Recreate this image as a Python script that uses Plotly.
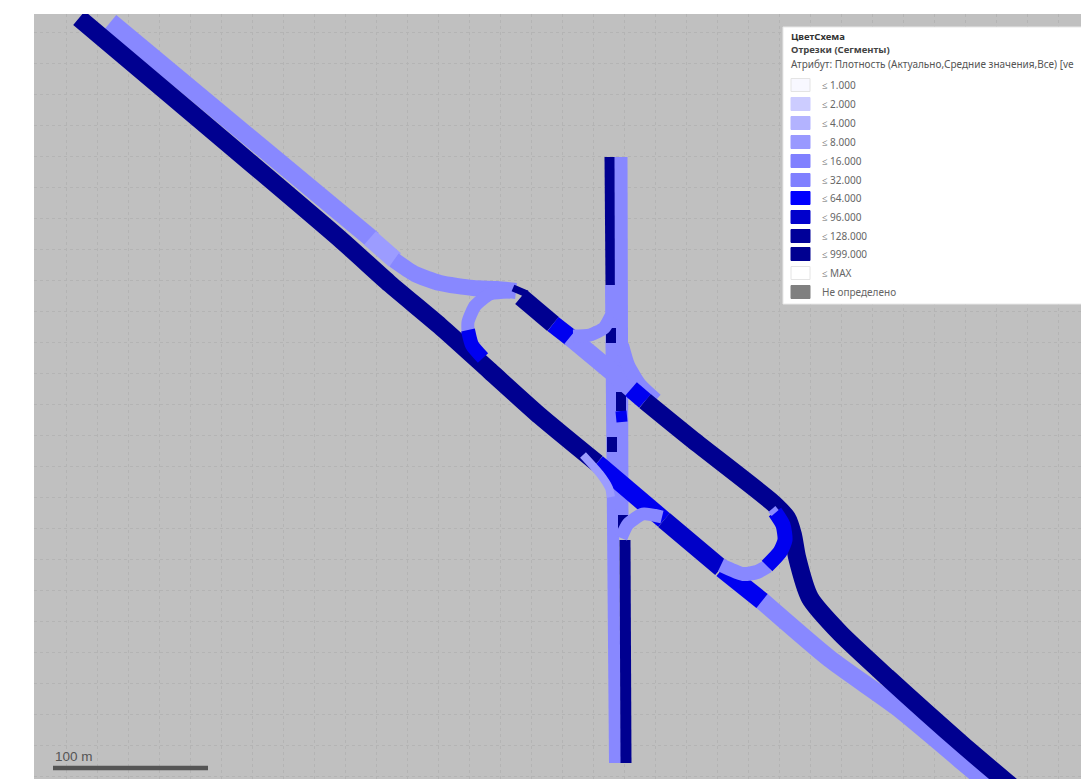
import plotly.graph_objects as go

# Density classes (legend)
legend_labels = ["≤ 1.000", "≤ 2.000", "≤ 4.000", "≤ 8.000", "≤ 16.000", "≤ 32.000",
                 "≤ 64.000", "≤ 96.000", "≤ 128.000", "≤ 999.000", "≤ MAX", "Не определено"]
legend_colors = ["#F8F8FF", "#CCCCFF", "#B3B3FF", "#9999FF", "#8080FF", "#8080FF",
                 "#0000FF", "#0000CC", "#000099", "#000090", "#FFFFFF", "#808080"]
legend_y = [85, 104, 123, 142, 161, 180, 198, 217, 236, 254, 273, 292]

C8, C32, C64, C96, C128 = "#9C9CFF", "#8888FF", "#0000F0", "#0000C8", "#000090"

# Road segments
seg_main_upper_x = [110.5, 373]
seg_main_upper_y = [22, 240]
seg_lighter_x = [370, 395]
seg_lighter_y = [238, 260]
seg_ramp_x = [394, 415, 440, 473, 497, 516]
seg_ramp_y = [260, 274, 283, 288, 289, 291]
seg_cap_x = [513, 527]
seg_cap_y = [288, 294]
seg_ne_dark_x = [521, 553]
seg_ne_dark_y = [297, 324]
seg_ne_blue_x = [553, 571]
seg_ne_blue_y = [324, 338]
seg_diag_x = [570, 612, 635]
seg_diag_y = [337, 372, 392]
seg_arcne_x = [573, 590, 604, 611]
seg_arcne_y = [336, 335, 328, 316]
seg_curve_x = [622, 628, 640, 656]
seg_curve_y = [345, 365, 385, 400]
seg_upper_blue_x = [631, 645]
seg_upper_blue_y = [389, 401]
seg_upper_dark_x = [645, 693, 773, 787, 793, 797, 810, 840, 887, 963, 1016]
seg_upper_dark_y = [401, 440, 503, 518, 535, 557, 598, 633, 677, 745, 790]

seg_loop_l_x = [510, 490, 475, 468, 468]
seg_loop_l_y = [292, 294, 306, 322, 331]
seg_loop_lb_x = [468, 472, 483]
seg_loop_lb_y = [330, 345, 358]

seg_lower_dark_x = [79, 340, 390, 440, 490, 540, 597]
seg_lower_dark_y = [18, 239, 284, 326, 371, 416, 463]
seg_lower_blue_x = [597, 664]
seg_lower_blue_y = [463, 520]
seg_lower_dark2_x = [664, 721]
seg_lower_dark2_y = [520, 568]
seg_lower_blue2_x = [722, 762]
seg_lower_blue2_y = [569, 601]
seg_lower_light_x = [761, 830, 897, 963, 988]
seg_lower_light_y = [600, 659, 707, 762, 783]

seg_branch_x = [583, 600, 609, 611]
seg_branch_y = [455, 474, 488, 497]

seg_loop_r_x = [721, 743, 757, 768]
seg_loop_r_y = [565, 574, 572, 566]
seg_loop_rb_x = [767, 780, 785, 783, 775]
seg_loop_rb_y = [566, 552, 540, 525, 512]
seg_tick_x = [770, 777]
seg_tick_y = [514, 508]

seg_sw_arc_x = [662, 643, 628, 621]
seg_sw_arc_y = [517, 514, 524, 538]

seg_v_left_top_x = [610, 611]
seg_v_left_top_y = [157, 285]
seg_v_left_x = [611, 615]
seg_v_left_y = [285, 763]
seg_v_right_x = [621, 622]
seg_v_right_y = [157, 520]
seg_v_d1_x = [611, 611]
seg_v_d1_y = [328, 343]
seg_v_d2_x = [621, 621]
seg_v_d2_y = [392, 411]
seg_v_b2_x = [621, 622]
seg_v_b2_y = [411, 422]
seg_v_d3_x = [612, 612]
seg_v_d3_y = [437, 452]
seg_v_d4_x = [623, 623]
seg_v_d4_y = [515, 530]
seg_v_d5_x = [625, 626]
seg_v_d5_y = [540, 763]

W = 18
segments = [
    (C128, 11, seg_v_left_top_x, seg_v_left_top_y),
    (C32, 12, seg_v_left_x, seg_v_left_y),
    (C32, 13, seg_v_right_x, seg_v_right_y),
    (C128, 10, seg_v_d1_x, seg_v_d1_y),
    (C128, 10, seg_v_d2_x, seg_v_d2_y),
    (C64, 11, seg_v_b2_x, seg_v_b2_y),
    (C128, 10, seg_v_d3_x, seg_v_d3_y),
    (C128, 10, seg_v_d4_x, seg_v_d4_y),
    (C128, 11, seg_v_d5_x, seg_v_d5_y),
    (C32, W, seg_main_upper_x, seg_main_upper_y),
    (C8, W, seg_lighter_x, seg_lighter_y),
    (C128, W, seg_lower_dark_x, seg_lower_dark_y),
    (C32, 16, seg_ramp_x, seg_ramp_y),
    (C32, 13, seg_loop_l_x, seg_loop_l_y),
    (C64, 14, seg_loop_lb_x, seg_loop_lb_y),
    (C128, 7, seg_cap_x, seg_cap_y),
    (C128, W, seg_ne_dark_x, seg_ne_dark_y),
    (C64, W, seg_ne_blue_x, seg_ne_blue_y),
    (C32, W, seg_diag_x, seg_diag_y),
    (C32, 13, seg_arcne_x, seg_arcne_y),
    (C32, 14, seg_curve_x, seg_curve_y),
    (C32, W, seg_lower_light_x, seg_lower_light_y),
    (C128, W, seg_upper_dark_x, seg_upper_dark_y),
    (C64, W, seg_upper_blue_x, seg_upper_blue_y),
    (C64, W, seg_lower_blue_x, seg_lower_blue_y),
    (C8, 8, seg_branch_x, seg_branch_y),
    (C96, W, seg_lower_dark2_x, seg_lower_dark2_y),
    (C64, W, seg_lower_blue2_x, seg_lower_blue2_y),
    (C32, 13, seg_sw_arc_x, seg_sw_arc_y),
    (C32, 14, seg_loop_r_x, seg_loop_r_y),
    (C64, 15, seg_loop_rb_x, seg_loop_rb_y),
    (C32, 5, seg_tick_x, seg_tick_y),
]

fig = go.Figure()
for color, width, xs, ys in segments:
    fig.add_trace(go.Scatter(x=xs, y=ys, mode="lines", hoverinfo="skip", showlegend=False,
                             line=dict(color=color, width=width, shape="spline", smoothing=0.6)))

# Scale bar
fig.add_trace(go.Scatter(x=[53, 208], y=[768, 768], mode="lines", hoverinfo="skip", showlegend=False,
                         line=dict(color="#555555", width=4.5)))

shapes = [dict(type="rect", x0=783, x1=1082, y0=27, y1=304, fillcolor="white",
               line=dict(color="#E8E8E8", width=1))]
for c, y in zip(legend_colors, legend_y):
    shapes.append(dict(type="rect", x0=791, x1=810, y0=y - 6.5, y1=y + 6.5, fillcolor=c,
                       line=dict(color="#E4E4E4" if c in ("#F8F8FF", "#FFFFFF") else c, width=1)))

FONT = "Noto Sans"
annots = [
    dict(x=788.5, y=36, text="<b>ЦветСхема</b>", size=9.5, color="#333333"),
    dict(x=788.5, y=49, text="<b>Отрезки (Сегменты)</b>", size=9.5, color="#444444"),
    dict(x=788.5, y=64, text="Атрибут: Плотность (Актуально,Средние значения,Все) [ve", size=10, color="#555555"),
]
for lab, y in zip(legend_labels, legend_y):
    annots.append(dict(x=819.5, y=y, text=lab, size=10, color="#666666"))
annots.append(dict(x=53, y=756, text="100 m", size=13.5, color="#555555", font="Liberation Sans"))

fig.update_layout(
    width=1081, height=779, margin=dict(l=34, r=0, t=14, b=0),
    paper_bgcolor="white", plot_bgcolor="#C0C0C0",
    xaxis=dict(range=[34, 1081], tick0=4, dtick=31, showgrid=True, gridcolor="#B4B4B4", griddash="dot",
               gridwidth=1, zeroline=False, showticklabels=False, ticks="", showline=False, fixedrange=True),
    yaxis=dict(range=[779, 14], tick0=1, dtick=31, showgrid=True, gridcolor="#B4B4B4", griddash="dot",
               gridwidth=1, zeroline=False, showticklabels=False, ticks="", showline=False, fixedrange=True),
    shapes=shapes,
    annotations=[dict(x=a["x"], y=a["y"], text=a["text"], xref="x", yref="y", showarrow=False,
                      xanchor="left", yanchor="middle", align="left",
                      font=dict(family=a.get("font", FONT), size=a["size"], color=a["color"]))
                 for a in annots],
)
fig.write_html("out.html", config=dict(displayModeBar=False),
               post_script="document.body.style.margin='0';")
